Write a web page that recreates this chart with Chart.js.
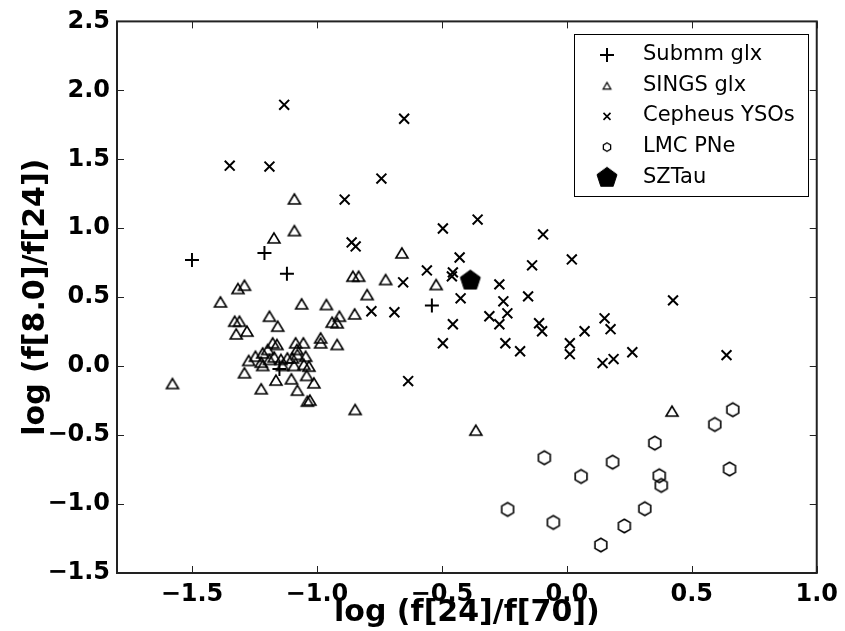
<!DOCTYPE html>
<html>
<head>
<meta charset="utf-8">
<script src="https://cdn.jsdelivr.net/npm/chart.js@4.4.0/dist/chart.umd.min.js"></script>
<style>
  html, body { margin:0; padding:0; background:#fff; }
  #wrap { width:845px; height:631px; }
</style>
</head>
<body>
<div id="wrap"><canvas id="chart" width="845" height="631"></canvas></div>
<script>
// values: x = log(f24/f70), y = log(f8.0/f24)
var submmX = [-1.50, -1.21, -1.12, -0.54, -1.15];
var submmY = [0.77, 0.82, 0.67, 0.44, -0.02];

var singsX = [-1.090, -1.090, -1.172, -0.660, -0.856, -0.833, -0.725, -0.523, -1.290, -1.316,
              -0.799, -1.386, -1.061, -0.962, -0.849, -1.190, -0.910, -1.329, -1.310, -0.939,
              -0.919, -1.157, -1.280, -1.323, -0.985, -0.985, -0.919, -1.177, -1.160, -1.085,
              -1.054, -1.197, -1.217, -1.246, -1.273, -1.223, -1.190, -1.171, -1.144, -1.118,
              -1.098, -1.078, -1.045, -1.080, -1.217, -1.138, -1.091, -1.052, -1.032, -1.290,
              -1.164, -1.102, -1.041, -1.012, -1.223, -1.078, -1.038, -1.028, -1.578, -0.847,
              -0.364, 0.421];
var singsY = [1.213, 0.983, 0.930, 0.821, 0.652, 0.652, 0.628, 0.592, 0.587, 0.563,
              0.519, 0.466, 0.452, 0.447, 0.379, 0.362, 0.362, 0.326, 0.326, 0.319,
              0.314, 0.290, 0.254, 0.234, 0.205, 0.169, 0.157, 0.169, 0.157, 0.169,
              0.169, 0.121, 0.096, 0.072, 0.041, 0.029, 0.049, 0.067, 0.049, 0.060,
              0.060, 0.085, 0.072, 0.121, 0.005, 0.005, 0.005, 0.012, 0.000, -0.048,
              -0.101, -0.092, -0.067, -0.121, -0.164, -0.174, -0.254, -0.246, -0.126, -0.314,
              -0.464, -0.326];

var cephX = [-1.131, -1.349, -1.190, -0.651, -0.742, -0.889, -0.357, -0.496, -0.095, -0.861,
             -0.845, -0.429, -0.139, 0.020, -0.560, -0.456, -0.460, -0.655, -0.270, -0.425,
             -0.155, -0.254, -0.782, -0.690, -0.238, -0.310, -0.270, -0.111, -0.099, -0.456,
             -0.496, -0.246, -0.187, 0.012, 0.012, 0.425, 0.151, 0.071, 0.175, 0.262,
             0.143, 0.187, 0.639, -0.635];
var cephY = [1.895, 1.454, 1.447, 1.794, 1.360, 1.208, 1.063, 0.998, 0.955, 0.897,
             0.868, 0.788, 0.731, 0.774, 0.694, 0.680, 0.651, 0.608, 0.593, 0.492,
             0.506, 0.470, 0.398, 0.391, 0.383, 0.362, 0.304, 0.311, 0.253, 0.304,
             0.166, 0.166, 0.108, 0.166, 0.087, 0.477, 0.347, 0.253, 0.268, 0.101,
             0.022, 0.051, 0.080, -0.108];

var pneX = [0.664, 0.592, 0.352, -0.090, 0.183, 0.057, 0.370, 0.378, 0.651, -0.237,
            0.312, -0.054, 0.230, 0.136];
var pneY = [-0.316, -0.423, -0.558, -0.664, -0.696, -0.800, -0.795, -0.865, -0.746, -1.039,
            -1.034, -1.133, -1.159, -1.297];

var szX = [-0.386];
var szY = [0.621];

var xTicks = [-1.5, -1.0, -0.5, 0.0, 0.5, 1.0];
var yTicks = [-1.5, -1.0, -0.5, 0.0, 0.5, 1.0, 1.5, 2.0, 2.5];
var seriesNames = ['Submm glx', 'SINGS glx', 'Cepheus YSOs', 'LMC PNe', 'SZTau'];

function pts(xs, ys) {
  var out = [];
  for (var i = 0; i < xs.length; i++) out.push({x: xs[i], y: ys[i]});
  return out;
}

function fmt(v) {
  var s = Math.abs(v).toFixed(1);
  return v < 0 ? '\u2212' + s : s;
}

// little canvases used as marker images
function polyMarker(n, rx, ry, startDeg, lw, filled) {
  var size = Math.ceil(2 * Math.max(rx, ry) + lw + 4);
  var c = document.createElement('canvas');
  c.width = size; c.height = size;
  var g = c.getContext('2d');
  var cx = size / 2, cy = size / 2;
  g.beginPath();
  for (var k = 0; k < n; k++) {
    var a = (startDeg + k * 360 / n) * Math.PI / 180;
    var px = cx + rx * Math.cos(a), py = cy + ry * Math.sin(a);
    if (k == 0) g.moveTo(px, py); else g.lineTo(px, py);
  }
  g.closePath();
  if (filled) { g.fillStyle = '#000'; g.fill(); }
  g.lineWidth = lw;
  g.strokeStyle = '#000';
  g.stroke();
  return c;
}

function triMarker(a, b, lw) {
  var size = Math.ceil(2 * Math.max(a, b) + lw + 4);
  var c = document.createElement('canvas');
  c.width = size; c.height = size;
  var g = c.getContext('2d');
  var cx = size / 2, cy = size / 2;
  g.beginPath();
  g.moveTo(cx, cy - b);
  g.lineTo(cx - a, cy + b);
  g.lineTo(cx + a, cy + b);
  g.closePath();
  g.lineWidth = lw;
  g.strokeStyle = '#000';
  g.stroke();
  return c;
}

var triImg = triMarker(6, 5, 1.6);
var hexImg = polyMarker(6, 6.8, 6.8, -90, 1.6, false);
var pentImg = polyMarker(5, 10.5, 10.5, -90, 1, true);

var triSmall = triMarker(3.8, 3.3, 1.3);
var hexSmall = polyMarker(6, 4.2, 4.2, -90, 1.3, false);

var framePlugin = {
  id: 'frame',
  afterDraw: function(chart) {
    var ctx = chart.ctx, a = chart.chartArea;
    var xs = chart.scales.x, ys = chart.scales.y;
    ctx.save();
    ctx.strokeStyle = '#222';
    ctx.lineWidth = 1;
    ctx.beginPath();
    xTicks.forEach(function(v) {
      var px = Math.round(xs.getPixelForValue(v)) + 0.5;
      ctx.moveTo(px, a.bottom); ctx.lineTo(px, a.bottom - 7);
      ctx.moveTo(px, a.top); ctx.lineTo(px, a.top + 7);
    });
    yTicks.forEach(function(v) {
      var py = Math.round(ys.getPixelForValue(v)) + 0.5;
      ctx.moveTo(a.left, py); ctx.lineTo(a.left + 7, py);
      ctx.moveTo(a.right, py); ctx.lineTo(a.right - 7, py);
    });
    ctx.stroke();
    ctx.lineWidth = 2;
    ctx.strokeRect(a.left, a.top, a.right - a.left, a.bottom - a.top);

    // legend box
    var lx = 574, ly = 34, lw = 234, lh = 162;
    ctx.fillStyle = '#fff';
    ctx.fillRect(lx, ly, lw, lh);
    ctx.lineWidth = 1;
    ctx.strokeStyle = '#000';
    ctx.strokeRect(lx + 0.5, ly + 0.5, lw, lh);
    ctx.font = '21px "DejaVu Sans"';
    ctx.fillStyle = '#000';
    ctx.textBaseline = 'alphabetic';
    ctx.textAlign = 'left';
    for (var i = 0; i < seriesNames.length; i++) {
      var base = 60 + i * 30.7;
      var my = base - 5;
      var mx = 607;
      ctx.strokeStyle = '#000';
      if (i == 0) {
        ctx.lineWidth = 2;
        ctx.beginPath();
        ctx.moveTo(mx - 7, my); ctx.lineTo(mx + 7, my);
        ctx.moveTo(mx, my - 7); ctx.lineTo(mx, my + 7);
        ctx.stroke();
      } else if (i == 1) {
        ctx.drawImage(triSmall, mx - triSmall.width / 2, my - triSmall.height / 2);
      } else if (i == 2) {
        ctx.lineWidth = 1.6;
        ctx.beginPath();
        ctx.moveTo(mx - 3.5, my - 3.5); ctx.lineTo(mx + 3.5, my + 3.5);
        ctx.moveTo(mx + 3.5, my - 3.5); ctx.lineTo(mx - 3.5, my + 3.5);
        ctx.stroke();
      } else if (i == 3) {
        ctx.drawImage(hexSmall, mx - hexSmall.width / 2, my - hexSmall.height / 2);
      } else {
        ctx.drawImage(pentImg, mx - pentImg.width / 2, my - pentImg.height / 2);
      }
      ctx.fillText(seriesNames[i], 643, base);
    }
    ctx.restore();
  }
};

new Chart(document.getElementById('chart'), {
  type: 'scatter',
  data: {
    datasets: [
      { label: seriesNames[0], data: pts(submmX, submmY), pointStyle: 'cross', pointRadius: 7,
        borderColor: '#000', borderWidth: 2, backgroundColor: '#000' },
      { label: seriesNames[1], data: pts(singsX, singsY), pointStyle: triImg, pointRadius: 6 },
      { label: seriesNames[2], data: pts(cephX, cephY), pointStyle: 'crossRot', pointRadius: 7,
        borderColor: '#000', borderWidth: 2, backgroundColor: '#000' },
      { label: seriesNames[3], data: pts(pneX, pneY), pointStyle: hexImg, pointRadius: 7 },
      { label: seriesNames[4], data: pts(szX, szY), pointStyle: pentImg, pointRadius: 10 }
    ]
  },
  options: {
    responsive: false,
    animation: false,
    devicePixelRatio: 1,
    layout: { padding: { top: 20, right: 23, left: 0, bottom: 0 } },
    plugins: { legend: { display: false }, tooltip: { enabled: false } },
    scales: {
      x: {
        type: 'linear', min: -1.8, max: 1.0,
        afterBuildTicks: function(scale) { scale.ticks = xTicks.map(function(v) { return {value: v}; }); },
        afterFit: function(scale) { scale.height = 58; },
        grid: { display: false, drawTicks: false },
        border: { display: false },
        ticks: { color: '#000', padding: 7, maxRotation: 0, autoSkip: false,
                 font: { family: 'DejaVu Sans', size: 24, weight: 'bold' },
                 callback: function(v) { return fmt(v); } },
        title: { display: true, text: 'log (f[24]/f[70])', color: '#000',
                 font: { family: 'DejaVu Sans', size: 30, weight: 'bold', lineHeight: 1.2 },
                 padding: { top: 0, bottom: 0 } }
      },
      y: {
        type: 'linear', min: -1.5, max: 2.5,
        afterBuildTicks: function(scale) { scale.ticks = yTicks.map(function(v) { return {value: v}; }); },
        afterFit: function(scale) { scale.width = 117; },
        grid: { display: false, drawTicks: false },
        border: { display: false },
        ticks: { color: '#000', padding: 7, autoSkip: false,
                 font: { family: 'DejaVu Sans', size: 24, weight: 'bold' },
                 callback: function(v) { return fmt(v); } },
        title: { display: true, text: 'log (f[8.0]/f[24])', color: '#000',
                 font: { family: 'DejaVu Sans', size: 30, weight: 'bold', lineHeight: 1.2 },
                 padding: { top: 18, bottom: 0 } }
      }
    }
  },
  plugins: [framePlugin]
});
</script>
</body>
</html>
